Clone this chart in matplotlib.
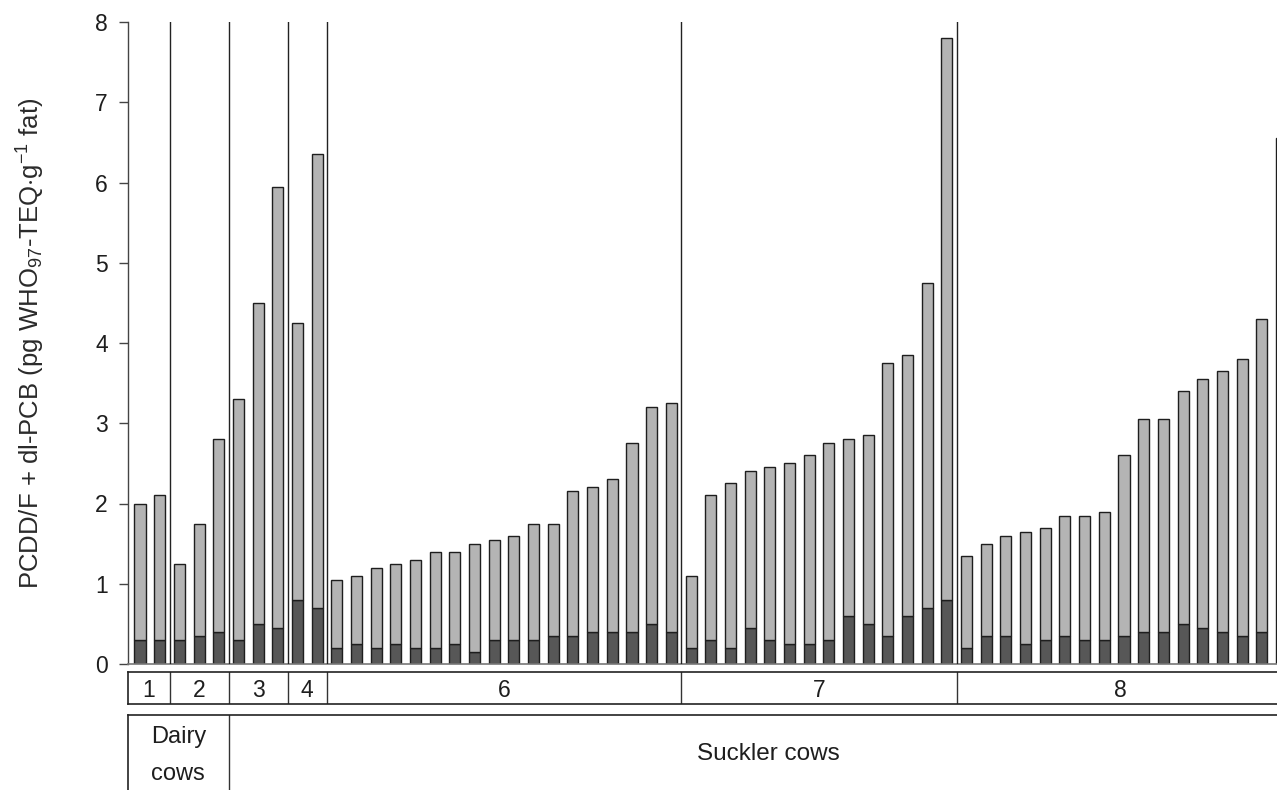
import matplotlib
matplotlib.use("Agg")
import matplotlib.pyplot as plt
import numpy as np

plt.rcParams['font.family'] = ['Liberation Sans', 'DejaVu Sans']
plt.rcParams['mathtext.fontset'] = 'custom'
plt.rcParams['mathtext.rm'] = 'Liberation Sans'
plt.rcParams['mathtext.it'] = 'Liberation Sans:italic'

# ---- data ----
farm_labels = ["1", "2", "3", "4", "6", "7", "8"]
farm_totals = [
    [2.0, 2.1],
    [1.25, 1.75, 2.8],
    [3.3, 4.5, 5.95],
    [4.25, 6.35],
    [1.05, 1.1, 1.2, 1.25, 1.3, 1.4, 1.4, 1.5, 1.55, 1.6, 1.75, 1.75,
     2.15, 2.2, 2.3, 2.75, 3.2, 3.25],
    [1.1, 2.1, 2.25, 2.4, 2.45, 2.5, 2.6, 2.75, 2.8, 2.85, 3.75, 3.85,
     4.75, 7.8],
    [1.35, 1.5, 1.6, 1.65, 1.7, 1.85, 1.85, 1.9, 2.6, 3.05, 3.05, 3.4,
     3.55, 3.65, 3.8, 4.3, 6.55],
]
farm_dark = [
    [0.3, 0.3],
    [0.3, 0.35, 0.4],
    [0.3, 0.5, 0.45],
    [0.8, 0.7],
    [0.2, 0.25, 0.2, 0.25, 0.2, 0.2, 0.25, 0.15, 0.3, 0.3, 0.3, 0.35,
     0.35, 0.4, 0.4, 0.4, 0.5, 0.4],
    [0.2, 0.3, 0.2, 0.45, 0.3, 0.25, 0.25, 0.3, 0.6, 0.5, 0.35, 0.6,
     0.7, 0.8],
    [0.2, 0.35, 0.35, 0.25, 0.3, 0.35, 0.3, 0.3, 0.35, 0.4, 0.4, 0.5,
     0.45, 0.4, 0.35, 0.4, 0.55],
]
herd_labels = ["Dairy", "cows", "Suckler cows"]
yticks = [0, 1, 2, 3, 4, 5, 6, 7, 8]
ylabel = r"PCDD/F + dl-PCB (pg WHO$_{97}$-TEQ$\cdot$g$^{-1}$ fat)"

W, H = 1277, 790
fig = plt.figure(figsize=(W / 100, H / 100), dpi=100)

def fx(p):
    return p / W

def fy(p):
    return 1 - p / H

left_px, right_px = 128, 1277
x0_px, step_px = 140, 19.68
xmin = (left_px - x0_px) / step_px
xmax = (right_px - x0_px) / step_px
txt_c = "#1e1e1e"

ax = fig.add_axes([fx(left_px), fy(664), fx(right_px - left_px), (664 - 22) / H])

totals = np.concatenate([np.array(t) for t in farm_totals])
dark = np.concatenate([np.array(d) for d in farm_dark])
x = np.arange(len(totals))
bw = 0.56
light_c = "#b4b4b4"
dark_c = "#575757"
edge_c = "#1e1e1e"
ax.bar(x, dark, width=bw, color=dark_c, edgecolor=edge_c, linewidth=1.0, zorder=2)
ax.bar(x, totals - dark, bottom=dark, width=bw, color=light_c, edgecolor=edge_c,
       linewidth=1.0, zorder=2)

sizes = [len(t) for t in farm_totals]
bounds = np.cumsum(sizes)[:-1] - 0.5
for b in bounds:
    ax.axvline(b, color="#222222", lw=1.0, zorder=3)

ax.set_xlim(xmin, xmax)
ax.set_ylim(0, 8)
ax.set_yticks(yticks)
ax.set_yticklabels([str(v) for v in yticks])
ax.set_xticks([])
for s in ["top", "right"]:
    ax.spines[s].set_visible(False)
ax.spines["left"].set_color("#444444")
ax.spines["bottom"].set_color("#777777")
ax.spines["left"].set_linewidth(1.0)
ax.spines["bottom"].set_linewidth(1.2)
ax.tick_params(axis="y", direction="out", length=6.5, width=1.0, color="#444444",
               labelsize=16.5, pad=8, labelcolor=txt_c)
ax.set_ylabel(ylabel, fontsize=18.5, color="#2a2a2a")
ax.yaxis.set_label_coords(-(left_px - 31) / (right_px - left_px), 0.5)
ax.yaxis.label.set_verticalalignment("center")

# ---- farm row ----
ax2 = fig.add_axes([fx(left_px), fy(704), fx(right_px - left_px), (704 - 672) / H])
ax2.set_xlim(xmin, xmax)
ax2.set_ylim(704, 672)
ax2.set_xticks([])
ax2.set_yticks([])
ax2.spines["right"].set_visible(False)
for s in ["top", "bottom", "left"]:
    ax2.spines[s].set_color("#222222")
    ax2.spines[s].set_linewidth(1.2)
edges = [xmin] + list(bounds) + [2 * 49.8 - bounds[-1]]
for b in bounds:
    ax2.axvline(b, color="#333333", lw=1.0)
for i, lab in enumerate(farm_labels):
    c = (edges[i] + edges[i + 1]) / 2
    ax2.text(c, 697, lab, ha="center", va="baseline", fontsize=16.5, color=txt_c)

# ---- herd row ----
ax3 = fig.add_axes([fx(left_px), fy(800), fx(right_px - left_px), (800 - 715) / H])
ax3.set_xlim(xmin, xmax)
ax3.set_ylim(800, 715)
ax3.set_xticks([])
ax3.set_yticks([])
ax3.spines["right"].set_visible(False)
ax3.spines["bottom"].set_visible(False)
for s in ["top", "left"]:
    ax3.spines[s].set_color("#222222")
    ax3.spines[s].set_linewidth(1.2)
dairy_end = bounds[1]
ax3.axvline(dairy_end, color="#333333", lw=1.0)
dc = (xmin + dairy_end) / 2
ax3.text(dc, 743, herd_labels[0], ha="center", va="baseline", fontsize=17, color=txt_c)
ax3.text(dc, 780, herd_labels[1], ha="center", va="baseline", fontsize=17, color=txt_c)
ax3.text((768 - x0_px) / step_px, 760, herd_labels[2], ha="center", va="baseline",
         fontsize=17.5, color=txt_c)

fig.savefig("out.png", dpi=100)
